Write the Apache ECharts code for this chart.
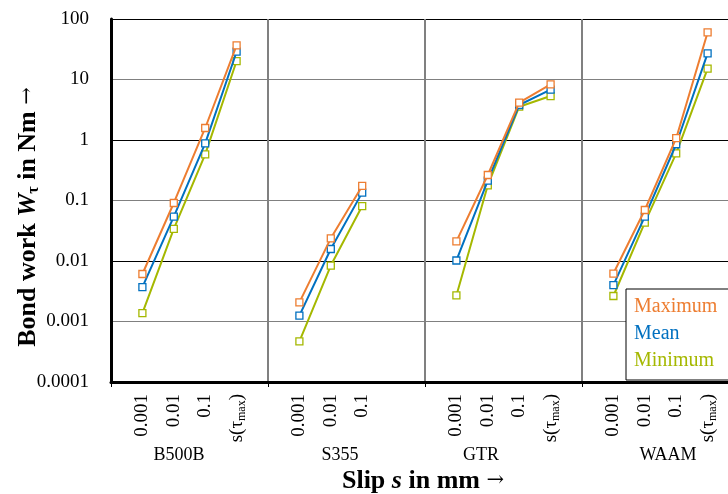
<!DOCTYPE html>
<html>
<head>
<meta charset="utf-8">
<script src="https://cdn.jsdelivr.net/npm/echarts@6/dist/echarts.min.js"></script>
<style>html,body{margin:0;padding:0;background:#fff;overflow:hidden;width:728px;height:494px}#c{width:740px;height:494px}</style>
</head>
<body>
<div id="c"></div>
<script>
// ---- data ----
const groups = ['B500B', 'S355', 'GTR', 'WAAM'];
const slipTicks = [
  ['0.001', '0.01', '0.1', 's(τmax)'],
  ['0.001', '0.01', '0.1'],
  ['0.001', '0.01', '0.1', 's(τmax)'],
  ['0.001', '0.01', '0.1', 's(τmax)']
];
const maximumW = [[0.0061, 0.091, 1.58, 36.7], [0.00207, 0.0237, 0.174], [0.0211, 0.264, 4.14, 8.3], [0.0062, 0.0697, 1.07, 60]];
const meanW = [[0.0037, 0.054, 0.88, 28.8], [0.00125, 0.0158, 0.135], [0.0102, 0.213, 3.79, 6.8], [0.0040, 0.054, 0.85, 27.1]];
const minimumW = [[0.00138, 0.034, 0.58, 20.2], [0.00047, 0.0084, 0.081], [0.0027, 0.178, 3.55, 5.33], [0.00264, 0.043, 0.60, 15.1]];
const yTicks = ['0.0001', '0.001', '0.01', '0.1', '1', '10', '100'];
const seriesNames = ['Maximum', 'Mean', 'Minimum'];
const seriesColors = ['#ED7D31', '#0070C0', '#A5B800'];

// ---- build category slots ----
const SLOTS = 5;
const categories = [];
groups.forEach((g, gi) => {
  categories.push('');
  for (let k = 0; k < SLOTS - 1; k++) categories.push(slipTicks[gi][k] || '');
});
categories.push('');
function buildData(vals) {
  const d = new Array(categories.length).fill(null);
  vals.forEach((arr, gi) => arr.forEach((v, k) => { d[gi * SLOTS + 1 + k] = v; }));
  return d;
}
const FONT = 'Liberation Serif';
const TICK = 19;
const TITLE = 26;

const chart = echarts.init(document.getElementById('c'), null, { renderer: 'canvas' });
const seriesVals = [maximumW, meanW, minimumW];
const series = [2, 1, 0].map(i => ({
  name: seriesNames[i],
  type: 'line',
  data: buildData(seriesVals[i]),
  connectNulls: false,
  symbol: 'rect',
  symbolSize: 7,
  showAllSymbol: true,
  lineStyle: { color: seriesColors[i], width: 2 },
  itemStyle: { color: '#fff', borderColor: seriesColors[i], borderWidth: 1.3 },
  emphasis: { disabled: true },
  animation: false,
  z: 3 + (2 - i)
}));

chart.setOption({
  animation: false,
  grid: { left: 111, top: 19, right: 1, bottom: 112 },
  xAxis: {
    type: 'category',
    data: categories,
    boundaryGap: false,
    axisLine: { lineStyle: { color: '#000', width: 3 } },
    axisTick: { show: true, interval: (i) => i % SLOTS === 0, length: 5, lineStyle: { color: '#000', width: 1 } },
    splitLine: { show: true, interval: (i) => i % SLOTS === 0 && i > 0, lineStyle: { color: '#808080', width: 2 } },
    axisLabel: {
      interval: 0, rotate: 90, margin: 12,
      fontFamily: FONT, fontSize: TICK, color: '#000',
      formatter: (v) => v.indexOf('max') >= 0 ? '{a|s(τ}{sub|max}{a|)}' : v,
      rich: {
        a: { fontFamily: FONT, fontSize: TICK, color: '#000', lineHeight: 22 },
        sub: { fontFamily: FONT, fontSize: 12, color: '#000', lineHeight: 8, verticalAlign: 'bottom' }
      }
    }
  },
  yAxis: {
    type: 'log',
    logBase: 10,
    min: 0.0001,
    max: 100,
    axisLine: { show: true, lineStyle: { color: '#000', width: 3 } },
    axisTick: { show: false },
    splitLine: { show: true, lineStyle: { color: ['#000', '#808080'], width: 1 } },
    axisLabel: {
      margin: 22, fontFamily: FONT, fontSize: TICK, color: '#000',
      formatter: (v) => yTicks[Math.round(Math.log10(v)) + 4]
    }
  },
  legend: {
    orient: 'vertical',
    left: 626, top: 289,
    padding: [7, 40, 8, 2],
    itemWidth: 0, itemHeight: 20, itemGap: 5,
    icon: 'rect',
    itemStyle: { opacity: 0 },
    lineStyle: { opacity: 0 },
    selectedMode: false,
    backgroundColor: '#fff',
    borderColor: '#000', borderWidth: 1, borderRadius: 0,
    textStyle: { fontFamily: FONT, fontSize: 20 },
    data: seriesNames.map((n, i) => ({ name: n, textStyle: { color: seriesColors[i], fontFamily: FONT, fontSize: 20 } })),
    z: 20
  },
  graphic: [
    ...groups.map((g, gi) => ({
      type: 'text', x: [179, 340, 481, 668][gi], y: 455, silent: true,
      style: { text: g, font: '18px "' + FONT + '"', fill: '#000', textAlign: 'center', textVerticalAlign: 'middle', align: 'center', verticalAlign: 'middle' }
    })),
    {
      type: 'text', x: 423, y: 481, silent: true,
      style: {
        text: '{b|Slip }{bi|s}{b| in mm }{ar|→}',
        align: 'center', verticalAlign: 'middle', textAlign: 'center', textVerticalAlign: 'middle',
        rich: {
          b: { fontFamily: FONT, fontWeight: 'bold', fontSize: TITLE, fill: '#000', lineHeight: 28 },
          bi: { fontFamily: FONT, fontWeight: 'bold', fontStyle: 'italic', fontSize: TITLE, fill: '#000', lineHeight: 28 },
          ar: { fontFamily: 'DejaVu Serif', fontSize: 21, fill: '#000', lineHeight: 28 }
        }
      }
    },
    {
      type: 'text', x: 28, y: 217, rotation: Math.PI / 2, silent: true,
      style: {
        text: '{b|Bond work }{bi|W}{sub|τ}{b| in Nm }{ar|→}',
        align: 'center', verticalAlign: 'middle', textAlign: 'center', textVerticalAlign: 'middle',
        rich: {
          b: { fontFamily: FONT, fontWeight: 'bold', fontSize: TITLE, fill: '#000', lineHeight: 28 },
          bi: { fontFamily: FONT, fontWeight: 'bold', fontStyle: 'italic', fontSize: TITLE, fill: '#000', lineHeight: 28 },
          sub: { fontFamily: FONT, fontWeight: 'bold', fontSize: 16, fill: '#000', lineHeight: 10, verticalAlign: 'bottom' },
          ar: { fontFamily: 'DejaVu Serif', fontSize: 21, fill: '#000', lineHeight: 28 }
        }
      }
    }
  ],
  series: series
});
</script>
</body>
</html>
